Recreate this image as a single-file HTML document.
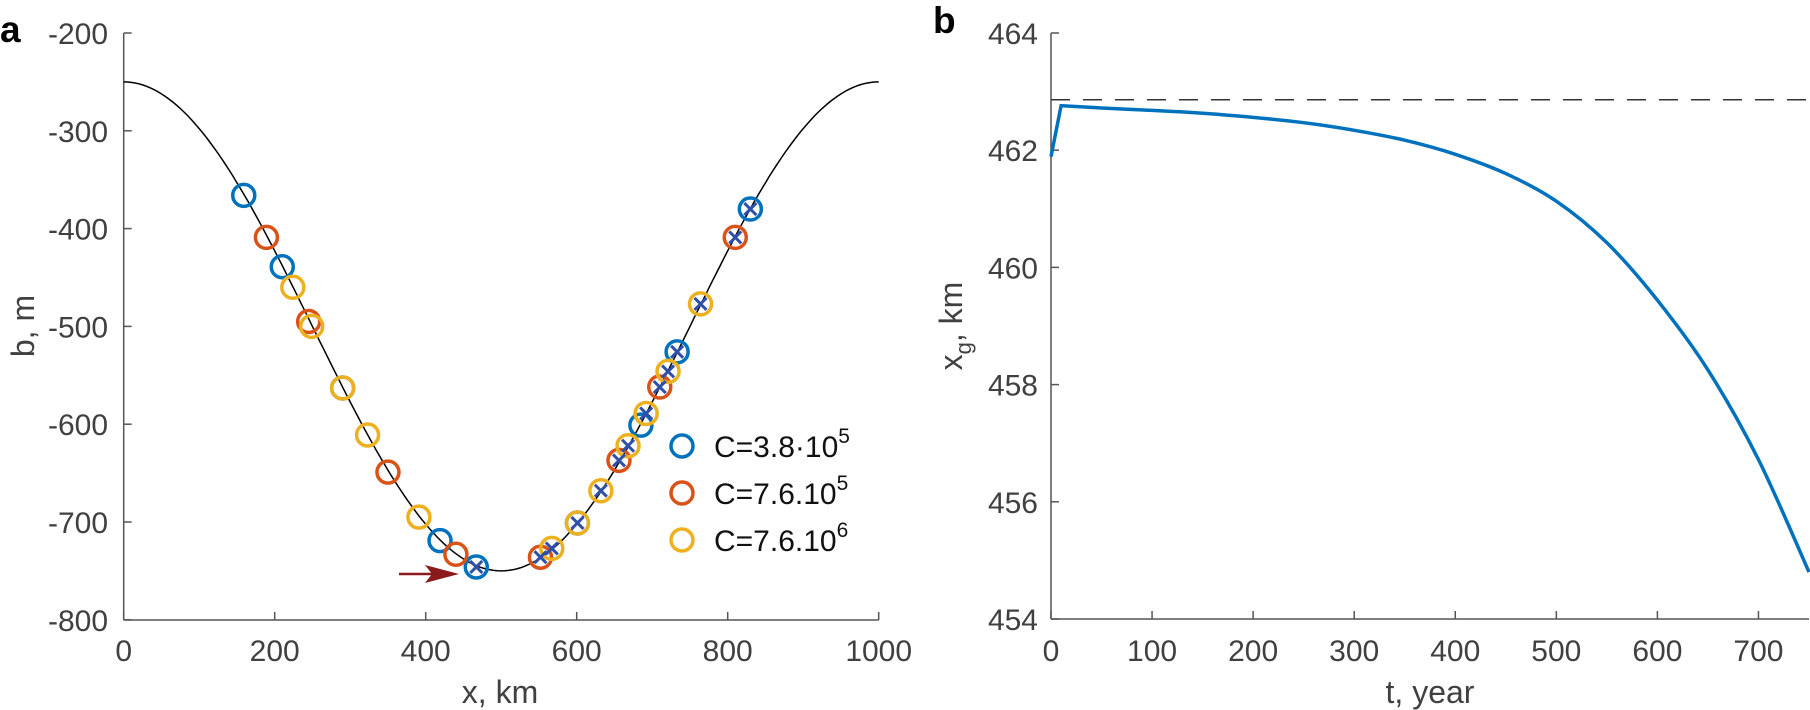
<!DOCTYPE html>
<html><head><meta charset="utf-8"><style>
html,body{margin:0;padding:0;background:#fff;}
svg{display:block;font-family:"Liberation Sans",sans-serif;}
</style></head><body>
<svg id="fig" width="1810" height="710" viewBox="0 0 1810 710" xmlns="http://www.w3.org/2000/svg">
<g id="pa"></g>
<g id="pb"></g>
</svg>
<script>
// Panel a data
const aXTicks = [0,200,400,600,800,1000];
const aYTicks = [-200,-300,-400,-500,-600,-700,-800];
const blueX = [159,210,290,419,467,601,685,733,830];
const blueB = [-366,-439,-563,-719,-746,-701,-601,-526,-380];
const redX = [189,245,350,440,552,656,710,810];
const redB = [-409,-495,-649,-733,-736,-637,-562,-409];
const yellowX = [224,249,290,323,391,567,601,632,668,692,721,764];
const yellowB = [-460,-500,-563,-611,-695,-727,-701,-668,-622,-589,-546,-477];
const crossX = [467,552,567,601,632,656,668,692,710,721,733,764,810,830];
const crossB = [-746,-736,-727,-701,-668,-637,-622,-589,-562,-546,-526,-477,-409,-380];
const legendLabels = ["C=3.8·10","C=7.6.10","C=7.6.10"];
const legendExp = ["5","5","6"];
// Panel b data
const bXTicks = [0,100,200,300,400,500,600,700];
const bYTicks = [454,456,458,460,462,464];
const tYears = [0,10,50,100,150,200,250,300,350,400,450,500,550,600,650,700,750];
const xgKm = [461.89,462.76,462.72,462.68,462.63,462.56,462.47,462.34,462.17,461.93,461.60,461.13,460.42,459.44,458.25,456.72,454.80];
const xgSteady = 462.86;

const NS="http://www.w3.org/2000/svg";
function mk(parent,tag,attrs,text){const e=document.createElementNS(NS,tag);for(const k in attrs)e.setAttribute(k,attrs[k]);if(text!==undefined)e.textContent=text;parent.appendChild(e);return e;}
const TF=30;

// ---- Panel a
const pa=document.getElementById('pa');
const ax=v=>123.7+v*0.755;
const ay=v=>33+(-200-v)*0.978;
const AX0=123.7,AX1=878.7,AY0=33,AY1=620;
let e;
e=mk(pa,'line',{x1:AX0,y1:AY0,x2:AX0,y2:AY1,stroke:'#555','stroke-width':1.5});


e=mk(pa,'line',{x1:AX0,y1:AY1,x2:AX1,y2:AY1,stroke:'#555','stroke-width':1.5});


aYTicks.forEach(v=>{
  mk(pa,'line',{x1:AX0,y1:ay(v),x2:AX0+8,y2:ay(v),stroke:'#555','stroke-width':1.5});
  e=mk(pa,'text',{x:108,y:ay(v)+11,'text-anchor':'end','font-size':TF,fill:'#404040'},String(v));
  
  
});
aXTicks.forEach(v=>{
  mk(pa,'line',{x1:ax(v),y1:AY1,x2:ax(v),y2:AY1-8,stroke:'#555','stroke-width':1.5});
  e=mk(pa,'text',{x:ax(v),y:661,'text-anchor':'middle','font-size':TF,fill:'#404040'},String(v));
  
  
});
let d='';
for(let x=0;x<=1000;x+=5){const b=-500+250*Math.cos(2*Math.PI*x/1000);d+=(x?'L':'M')+ax(x).toFixed(1)+','+ay(b).toFixed(1);}
e=mk(pa,'path',{d:d,fill:'none',stroke:'#000','stroke-width':1.5});


function circles(xs,bs,col,name){xs.forEach((x,i)=>{
  const c=mk(pa,'circle',{cx:ax(x),cy:ay(bs[i]),r:11,fill:'none',stroke:col,'stroke-width':3.5});
  
  
});}
circles(blueX,blueB,'#0072BD','marker-c1');
circles(redX,redB,'#D95319','marker-c2');
circles(yellowX,yellowB,'#EDB120','marker-c3');
crossX.forEach((x,i)=>{
  const cx=ax(x),cy=ay(crossB[i]),s=6;
  const p=mk(pa,'path',{d:`M${cx-s},${cy-s}L${cx+s},${cy+s}M${cx-s},${cy+s}L${cx+s},${cy-s}`,stroke:'#3050A8','stroke-width':3});
  
  
});
e=mk(pa,'g',{});


mk(e,'line',{x1:399,y1:574,x2:445,y2:574,stroke:'#8B1A1A','stroke-width':2.5});
mk(e,'polygon',{points:'459,574 425,565 432,574 425,583',fill:'#8B1A1A'});
const legCols=['#0072BD','#D95319','#EDB120'];
legendLabels.forEach((l,i)=>{
  const y=446+i*47;
  const g=mk(pa,'g',{});
  
  
  mk(g,'circle',{cx:682,cy:y,r:11,fill:'none',stroke:legCols[i],'stroke-width':3.5});
  const t=mk(g,'text',{x:714,y:y+11,'font-size':30,fill:'#111'},l);
  mk(t,'tspan',{dy:-14,'font-size':21},legendExp[i]);
});
e=mk(pa,'text',{x:500,y:703,'text-anchor':'middle','font-size':32,fill:'#404040'},'x, km');


e=mk(pa,'text',{x:0,y:0,'text-anchor':'middle','font-size':32,fill:'#404040',transform:'translate(34,326) rotate(-90)'},'b, m');


e=mk(pa,'text',{x:0,y:42,'font-size':37,'font-weight':'bold',fill:'#000'},'a');



// ---- Panel b
const pb=document.getElementById('pb');
const bx=v=>1051+v*(758/750);
const by=v=>33+(464-v)*58.6;
const BX0=1051,BX1=1809,BY0=33,BY1=619;
e=mk(pb,'line',{x1:BX0,y1:BY0,x2:BX0,y2:BY1,stroke:'#555','stroke-width':1.5});


e=mk(pb,'line',{x1:BX0,y1:BY1,x2:BX1,y2:BY1,stroke:'#555','stroke-width':1.5});


bYTicks.forEach(v=>{
  mk(pb,'line',{x1:BX0,y1:by(v),x2:BX0+8,y2:by(v),stroke:'#555','stroke-width':1.5});
  e=mk(pb,'text',{x:1038,y:by(v)+11,'text-anchor':'end','font-size':TF,fill:'#404040'},String(v));
  
  
});
bXTicks.forEach(v=>{
  mk(pb,'line',{x1:bx(v),y1:BY1,x2:bx(v),y2:BY1-8,stroke:'#555','stroke-width':1.5});
  e=mk(pb,'text',{x:bx(v),y:661,'text-anchor':'middle','font-size':TF,fill:'#404040'},String(v));
  
  
});
e=mk(pb,'line',{x1:BX0,y1:by(xgSteady),x2:BX1,y2:by(xgSteady),stroke:'#333','stroke-width':1.5,'stroke-dasharray':'19,13'});


const P=tYears.map((t,i)=>[bx(t),by(xgKm[i])]);
let pd=`M${P[0][0]},${P[0][1]}L${P[1][0]},${P[1][1]}`;
for(let i=1;i<P.length-1;i++){
  const p0=P[Math.max(1,i-1)],p1=P[i],p2=P[i+1],p3=P[Math.min(P.length-1,i+2)];
  const c1=[p1[0]+(p2[0]-p0[0])/6,p1[1]+(p2[1]-p0[1])/6];
  const c2=[p2[0]-(p3[0]-p1[0])/6,p2[1]-(p3[1]-p1[1])/6];
  pd+=`C${c1[0].toFixed(1)},${c1[1].toFixed(1)} ${c2[0].toFixed(1)},${c2[1].toFixed(1)} ${p2[0].toFixed(1)},${p2[1].toFixed(1)}`;
}
e=mk(pb,'path',{d:pd,fill:'none',stroke:'#0072BD','stroke-width':3.5});


e=mk(pb,'text',{x:1430,y:703,'text-anchor':'middle','font-size':32,fill:'#404040'},'t, year');


const yt=mk(pb,'text',{x:0,y:0,'text-anchor':'middle','font-size':32,fill:'#404040',transform:'translate(962,326) rotate(-90)'},'x');


mk(yt,'tspan',{dy:9,'font-size':22},'g');
mk(yt,'tspan',{dy:-9},', km');
e=mk(pb,'text',{x:933,y:33,'font-size':37,'font-weight':'bold',fill:'#000'},'b');


</script>
</body></html>
